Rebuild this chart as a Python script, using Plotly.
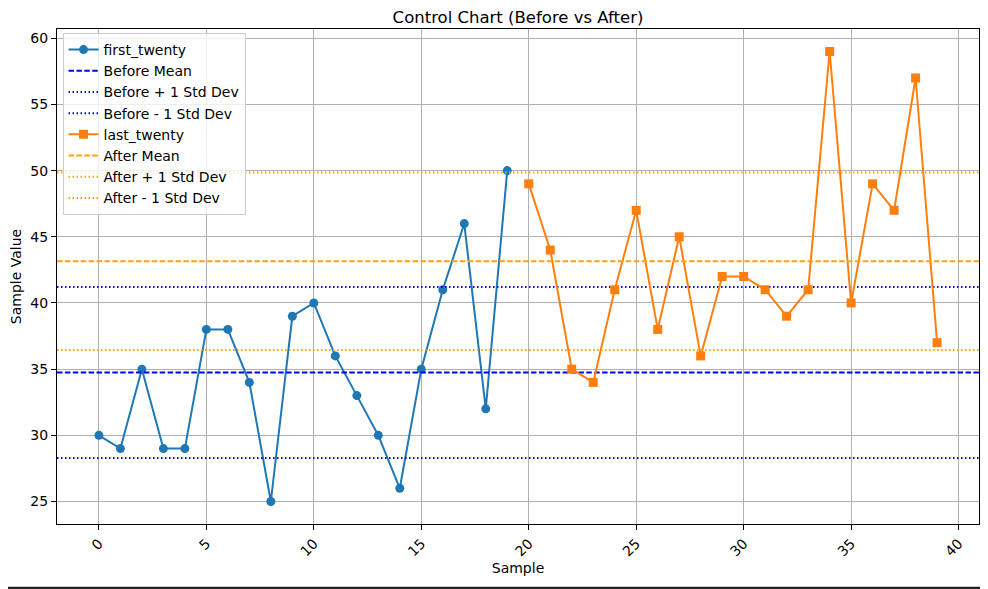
import plotly.graph_objects as go
import numpy as np

# sample values
first_twenty = [30, 29, 35, 29, 29, 38, 38, 34, 25, 39,
                40, 36, 33, 30, 26, 35, 41, 46, 32, 50]
last_twenty = [49, 44, 35, 34, 41, 47, 38, 45, 36, 42,
               42, 41, 39, 41, 59, 40, 49, 47, 57, 37]

x_before = list(range(len(first_twenty)))
x_after = list(range(len(first_twenty), len(first_twenty) + len(last_twenty)))


def stats(vals):
    arr = np.array(vals, dtype=float)
    m = arr.mean()
    s = arr.std(ddof=1)
    return m, m + s, m - s


b_mean, b_up, b_lo = stats(first_twenty)
a_mean, a_up, a_lo = stats(last_twenty)

# matplotlib-like 5% margins
all_x = x_before + x_after
all_y = first_twenty + last_twenty
xpad = 0.05 * (max(all_x) - min(all_x))
ypad = 0.05 * (max(all_y) - min(all_y))
x_range = [min(all_x) - xpad, max(all_x) + xpad]
y_range = [min(all_y) - ypad, max(all_y) + ypad]

BLUE = "#1f77b4"
ORANGE = "#ff7f0e"
DASH = "5.5px,2.4px"
DOT = "1.5px,2.5px"


def hline(y, color, dash, name):
    return go.Scatter(
        x=x_range, y=[y, y], mode="lines", name=name,
        line=dict(color=color, width=2, dash=dash),
        hoverinfo="skip",
    )


fig = go.Figure()
fig.add_trace(go.Scatter(
    x=x_before, y=first_twenty, mode="lines+markers", name="first_twenty",
    line=dict(color=BLUE, width=2),
    marker=dict(symbol="circle", size=9, color=BLUE),
))
fig.add_trace(hline(b_mean, "blue", DASH, "Before Mean"))
fig.add_trace(hline(b_up, "blue", DOT, "Before + 1 Std Dev"))
fig.add_trace(hline(b_lo, "blue", DOT, "Before - 1 Std Dev"))
fig.add_trace(go.Scatter(
    x=x_after, y=last_twenty, mode="lines+markers", name="last_twenty",
    line=dict(color=ORANGE, width=2),
    marker=dict(symbol="square", size=9, color=ORANGE),
))
fig.add_trace(hline(a_mean, "orange", DASH, "After Mean"))
fig.add_trace(hline(a_up, "orange", DOT, "After + 1 Std Dev"))
fig.add_trace(hline(a_lo, "orange", DOT, "After - 1 Std Dev"))

axis_common = dict(
    showgrid=True, gridcolor="#b0b0b0", gridwidth=1,
    zeroline=False, showline=True, mirror=True,
    linecolor="black", linewidth=1, automargin=False,
    ticks="outside", ticklen=5, tickwidth=1, tickcolor="black",
    tickfont=dict(size=14, color="black"),
)

# the page body adds an 8px offset, so the figure is a bit smaller
fig.update_layout(
    width=980, height=581,
    paper_bgcolor="white", plot_bgcolor="white",
    font=dict(family="DejaVu Sans", size=14, color="black"),
    margin=dict(l=49, r=9, t=21, b=65),
    title=dict(text="Control Chart (Before vs After)", x=0.5, xref="paper",
               xanchor="center", y=1 - 3 / 581, yanchor="top",
               font=dict(size=16.5)),
    xaxis=dict(range=x_range, dtick=5, tick0=0, tickangle=-45,
               title=dict(text="Sample", font=dict(size=14), standoff=4),
               **axis_common),
    yaxis=dict(range=y_range, dtick=5, tick0=0,
               title=dict(text="Sample Value", font=dict(size=14), standoff=8),
               **axis_common),
    legend=dict(x=0.006, y=0.992, xanchor="left", yanchor="top",
                bgcolor="rgba(255,255,255,0.8)", bordercolor="#cccccc",
                borderwidth=1, font=dict(size=14), tracegroupgap=0),
    showlegend=True,
    shapes=[dict(type="line", xref="paper", yref="paper",
                 x0=-0.07, x1=1.02, y0=-(64.5 / 496), y1=-(64.5 / 496),
                 line=dict(color="#222222", width=3))],
)

fig.write_html("out.html")
